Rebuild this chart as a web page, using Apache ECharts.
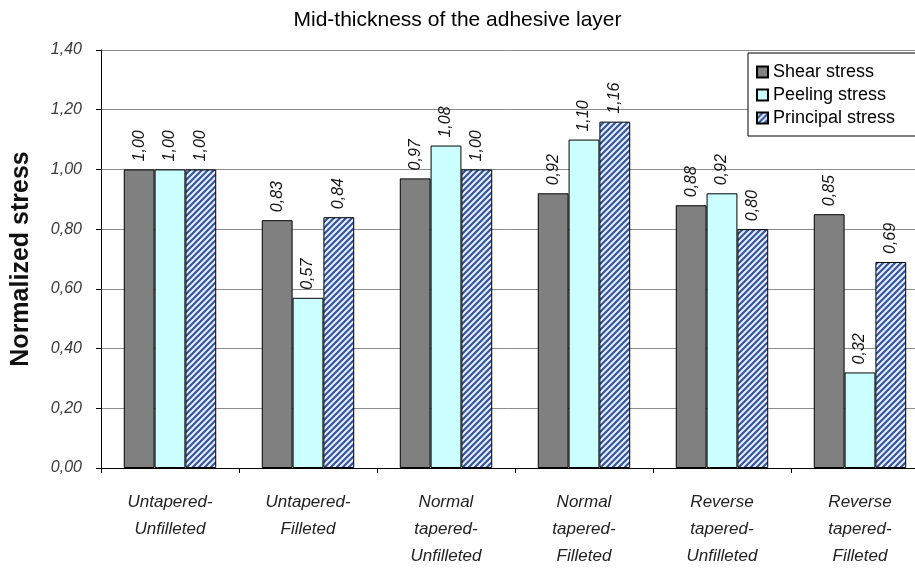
<!DOCTYPE html>
<html>
<head>
<meta charset="utf-8">
<script src="https://cdn.jsdelivr.net/npm/echarts@6/dist/echarts.min.js"></script>
<style>
  html, body { margin: 0; padding: 0; background: #fff; }
  #chart { width: 915px; height: 568px; }
</style>
</head>
<body>
<div id="chart"></div>
<script>
// Joint configurations (x categories)
const categories = [
  'Untapered-\nUnfilleted',
  'Untapered-\nFilleted',
  'Normal\ntapered-\nUnfilleted',
  'Normal\ntapered-\nFilleted',
  'Reverse\ntapered-\nUnfilleted',
  'Reverse\ntapered-\nFilleted'
];

// Normalized stresses at mid-thickness of the adhesive layer
const shearStress     = [1.00, 0.83, 0.97, 0.92, 0.88, 0.85];
const peelingStress   = [1.00, 0.57, 1.08, 1.10, 0.92, 0.32];
const principalStress = [1.00, 0.84, 1.00, 1.16, 0.80, 0.69];

const seriesNames = ['Shear stress', 'Peeling stress', 'Principal stress'];

// Diagonal hatch fill for the principal stress bars
function makeHatch() {
  const s = 6;
  const c = document.createElement('canvas');
  c.width = s; c.height = s;
  const g = c.getContext('2d');
  g.fillStyle = '#e8eeff';
  g.fillRect(0, 0, s, s);
  g.strokeStyle = '#34569a';
  g.lineWidth = 2.2;
  g.beginPath();
  g.moveTo(-1, s + 1); g.lineTo(s + 1, -1);
  g.moveTo(-1, 1);     g.lineTo(1, -1);
  g.moveTo(s - 1, s + 1); g.lineTo(s + 1, s - 1);
  g.stroke();
  return c;
}

const comma = v => v.toFixed(2).replace('.', ',');

const valueLabel = {
  show: true,
  position: 'top',
  rotate: 90,
  align: 'left',
  verticalAlign: 'middle',
  distance: 8,
  fontFamily: 'Liberation Sans, Arial, sans-serif',
  fontStyle: 'italic',
  fontSize: 16,
  color: '#111',
  formatter: p => comma(p.value)
};

function barSeries(name, data, fill) {
  return {
    name: name,
    type: 'bar',
    data: data,
    barGap: '0%',
    barCategoryGap: '33%',
    itemStyle: { color: fill, borderColor: '#000', borderWidth: 1 },
    label: valueLabel,
    emphasis: { disabled: true }
  };
}

const chart = echarts.init(document.getElementById('chart'), null, { renderer: 'canvas' });

chart.setOption({
  animation: false,
  backgroundColor: '#fff',
  textStyle: { fontFamily: 'Liberation Sans, Arial, sans-serif' },
  title: {
    text: 'Mid-thickness of the adhesive layer',
    left: 'center',
    top: 5,
    textStyle: { fontSize: 21, fontWeight: 'normal', color: '#000' }
  },
  legend: {
    orient: 'vertical',
    left: 748,
    top: 53,
    data: seriesNames,
    icon: 'rect',
    itemWidth: 11,
    itemHeight: 11,
    itemGap: 5,
    padding: [10, 30, 9, 8],
    borderColor: '#000',
    borderWidth: 1,
    backgroundColor: '#fff',
    textStyle: { fontSize: 18, color: '#000' },
    selectedMode: false
  },
  grid: {
    left: 101,
    top: 50,
    width: 828,
    height: 418,
    containLabel: false,
    outerBoundsMode: 'none'
  },
  xAxis: {
    type: 'category',
    data: categories,
    boundaryGap: true,
    axisLine: { lineStyle: { color: '#000', width: 1 } },
    axisTick: { show: true, length: 5, alignWithLabel: false, lineStyle: { color: '#000' } },
    axisLabel: {
      interval: 0,
      margin: 21,
      fontStyle: 'italic',
      fontSize: 17,
      lineHeight: 27,
      color: '#222',
      verticalAlign: 'top'
    },
    splitLine: { show: false }
  },
  yAxis: {
    type: 'value',
    min: 0,
    max: 1.4,
    interval: 0.2,
    name: 'Normalized stress',
    nameLocation: 'middle',
    nameRotate: 90,
    nameGap: 67,
    nameTextStyle: { fontSize: 25, fontWeight: 'bold', color: '#111' },
    axisLine: { show: true, lineStyle: { color: '#000', width: 1 } },
    axisTick: { show: true, length: 5, lineStyle: { color: '#000' } },
    axisLabel: {
      margin: 19,
      fontStyle: 'italic',
      fontSize: 16,
      color: '#3a3a3a',
      formatter: v => comma(v)
    },
    splitLine: { show: true, lineStyle: { color: '#8c8c8c', width: 1 } }
  },
  series: [
    barSeries(seriesNames[0], shearStress, '#808080'),
    barSeries(seriesNames[1], peelingStress, '#ccffff'),
    barSeries(seriesNames[2], principalStress, { image: makeHatch(), repeat: 'repeat' })
  ]
});
</script>
</body>
</html>
